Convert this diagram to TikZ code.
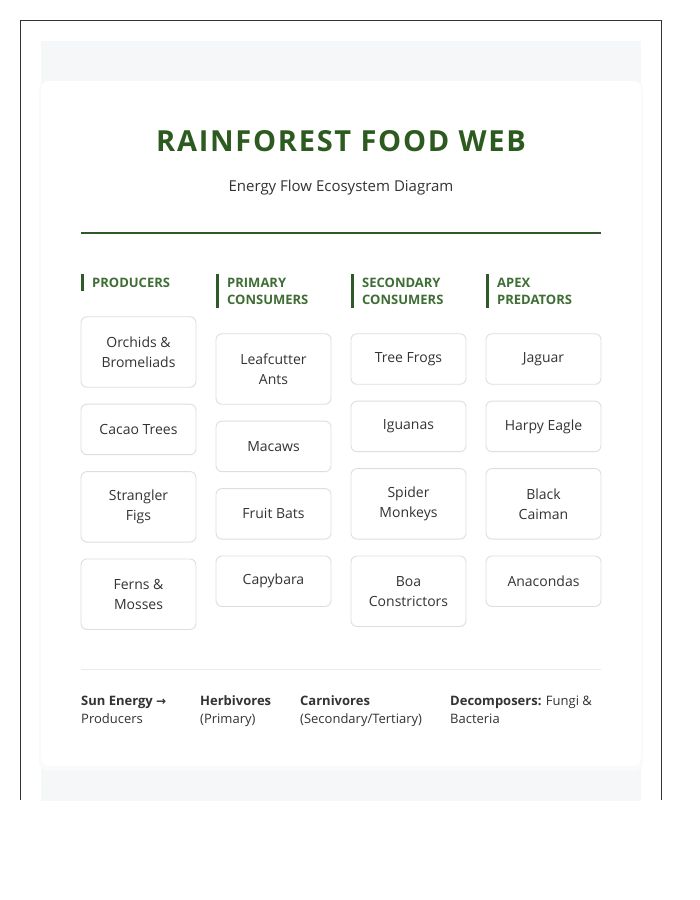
\documentclass[tikz,border=0pt]{standalone}
\usepackage{fontspec}
\setmainfont{Open Sans}
\newfontfamily\arrowfont{DejaVu Sans}
\usetikzlibrary{positioning}
\definecolor{leafgreen}{HTML}{2D5A27}
\definecolor{titlegreen}{HTML}{2D5A1F}
\definecolor{headgreen}{HTML}{3F6E35}
\definecolor{ink}{HTML}{333333}
\definecolor{boxgray}{HTML}{DEDEDE}
\definecolor{pagebg}{HTML}{F5F7F9}
\definecolor{sepgray}{HTML}{EBEBEB}
\tikzset{
  species/.style={draw=boxgray,fill=white,rounded corners=6pt,line width=0.9pt,
    minimum width=115pt,minimum height=50.5pt,align=center,text=ink,
    font=\fontsize{14}{20}\selectfont},
  tallspecies/.style={species,minimum height=70.5pt},
  level/.style={anchor=base west,align=left,inner sep=0pt,text=headgreen,
    font=\fontsize{13}{17}\selectfont\bfseries},
  legend/.style={anchor=base west,align=left,inner sep=0pt,text=ink,
    font=\fontsize{13}{18}\selectfont}
}
\begin{document}
\begin{tikzpicture}[x=1pt,y=-1pt,node distance=16pt]
                \useasboundingbox (0,0) rectangle (700,900);
                \fill[white] (0,0) rectangle (700,900);
                \draw[ink,line width=0.8pt] (20,800) -- (20,20.5) -- (661,20.5) -- (661,800);
                \fill[pagebg] (41,41) rectangle (641,801);
                \fill[black!4,rounded corners=9pt] (40,82) rectangle (642,769);
                \fill[black!2,rounded corners=9pt] (39,81) rectangle (643,771);
                \fill[white,rounded corners=8pt] (41,81) rectangle (641,766);
                \node[text=titlegreen,font=\fontsize{29}{34}\selectfont\bfseries\addfontfeatures{LetterSpace=6}] (title) at (341,141) {RAINFOREST FOOD WEB};
                \node[text=ink,font=\fontsize{15}{18}\selectfont] (subtitle) at (341,188) {Energy Flow Ecosystem Diagram};
                \draw[leafgreen,line width=2pt] (81,232.5) -- (601,232.5);
                \node[level] (producers) at (92,287) {PRODUCERS};
                \node[level] (primary) at (227,304) {PRIMARY\\CONSUMERS};
                \node[level] (secondary) at (362,304) {SECONDARY\\CONSUMERS};
                \node[level] (apex) at (497,304) {APEX\\PREDATORS};
                \draw[leafgreen,line width=3pt] (82.5,274) -- (82.5,291);
                \draw[leafgreen,line width=3pt] (217.5,274) -- (217.5,308);
                \draw[leafgreen,line width=3pt] (352.5,274) -- (352.5,308);
                \draw[leafgreen,line width=3pt] (487.5,274) -- (487.5,308);
                \node[tallspecies] (orchids) at (138.5,352) {Orchids \&\\Bromeliads};
                \node[species,below=of orchids] (cacao) {Cacao Trees};
                \node[tallspecies,below=of cacao] (figs) {Strangler\\Figs};
                \node[tallspecies,below=of figs] (ferns) {Ferns \&\\Mosses};
                \node[tallspecies] (ants) at (273.5,369) {Leafcutter\\Ants};
                \node[species,below=of ants] (macaws) {Macaws};
                \node[species,below=of macaws] (bats) {Fruit Bats};
                \node[species,below=of bats] (capybara) {Capybara};
                \node[species] (frogs) at (408.5,359) {Tree Frogs};
                \node[species,below=of frogs] (iguanas) {Iguanas};
                \node[tallspecies,below=of iguanas] (monkeys) {Spider\\Monkeys};
                \node[tallspecies,below=of monkeys] (boas) {Boa\\Constrictors};
                \node[species] (jaguar) at (543.5,359) {Jaguar};
                \node[species,below=of jaguar] (eagle) {Harpy Eagle};
                \node[tallspecies,below=of eagle] (caiman) {Black\\Caiman};
                \node[species,below=of caiman] (anacondas) {Anacondas};
                \draw[sepgray,line width=1pt] (81,669.5) -- (601,669.5);
                \node[legend] (sun) at (81,723) {\textbf{Sun Energy {\arrowfont\fontsize{12}{18}\selectfont→}}\\Producers};
                \node[legend] (herbivores) at (200,723) {\textbf{Herbivores}\\(Primary)};
                \node[legend] (carnivores) at (300,723) {\textbf{Carnivores}\\(Secondary/Tertiary)};
                \node[legend] (decomposers) at (450,723) {\textbf{Decomposers:} Fungi \&\\Bacteria};
            \end{tikzpicture}
\end{document}
